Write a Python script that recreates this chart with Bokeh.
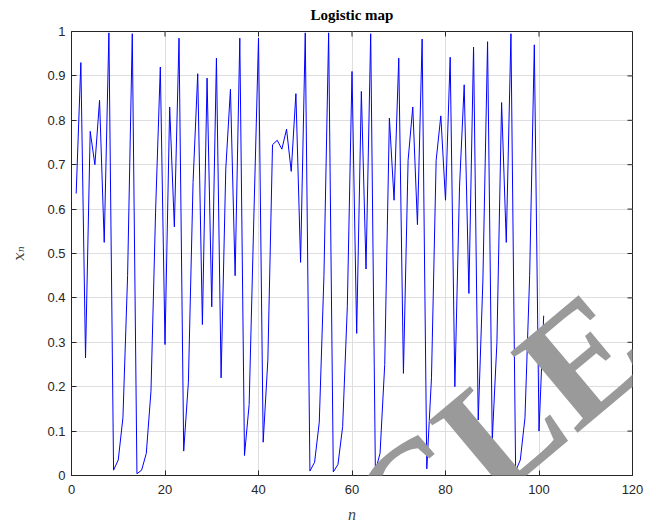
from bokeh.plotting import figure
from bokeh.models import Range1d, FixedTicker, Label
from bokeh.embed import file_html
from bokeh.resources import INLINE

# data
n_vals = list(range(1, 102))
x_vals = [0.635, 0.93, 0.265, 0.775, 0.70, 0.845, 0.525, 0.997, 0.012, 0.035,
          0.13, 0.45, 0.995, 0.004, 0.012, 0.05, 0.19, 0.60, 0.92, 0.295,
          0.83, 0.56, 0.985, 0.055, 0.21, 0.66, 0.905, 0.34, 0.895, 0.38,
          0.94, 0.22, 0.69, 0.87, 0.45, 0.985, 0.045, 0.16, 0.58, 0.985,
          0.075, 0.26, 0.745, 0.755, 0.735, 0.78, 0.685, 0.86, 0.48, 0.997,
          0.01, 0.03, 0.12, 0.45, 0.997, 0.008, 0.025, 0.11, 0.38, 0.91,
          0.32, 0.865, 0.465, 0.995, 0.01, 0.05, 0.25, 0.805, 0.62, 0.94,
          0.23, 0.71, 0.83, 0.565, 0.983, 0.015, 0.22, 0.71, 0.81, 0.62,
          0.942, 0.20, 0.65, 0.88, 0.41, 0.965, 0.125, 0.44, 0.977, 0.08,
          0.30, 0.84, 0.525, 0.995, 0.01, 0.035, 0.13, 0.45, 0.97, 0.10,
          0.36]

x_ticks = [0, 20, 40, 60, 80, 100, 120]
y_ticks = [0, 0.1, 0.2, 0.3, 0.4, 0.5, 0.6, 0.7, 0.8, 0.9, 1]
y_tick_labels = ["0", "0.1", "0.2", "0.3", "0.4", "0.5", "0.6", "0.7", "0.8", "0.9", "1"]

X0, X1, Y0, Y1 = 0, 120, 0, 1
FW, FH = 561, 444  # frame size in px

p = figure(width=656, height=524, output_backend="svg", toolbar_location=None,
           x_range=Range1d(X0, X1), y_range=Range1d(Y0, Y1),
           frame_width=FW, frame_height=FH,
           min_border_left=71, min_border_right=24, min_border_top=31, min_border_bottom=49)
p.background_fill_color = "white"
p.border_fill_color = "white"
p.outline_line_color = "#262626"
p.outline_line_width = 1

p.title.text = "Logistic map"
p.title.align = "center"
p.title.vertical_align = "top"
p.title.text_font = "Liberation Serif"
p.title.text_font_style = "bold"
p.title.text_font_size = "15px"
p.title.text_color = "black"
p.title.standoff = 13

TICK_FONT = "Liberation Sans"
for ax in (p.xaxis[0], p.yaxis[0]):
    ax.axis_line_color = "#262626"
    ax.major_tick_in = 5
    ax.major_tick_out = 0
    ax.minor_tick_line_color = None
    ax.major_tick_line_color = "#262626"
    ax.major_label_text_font = TICK_FONT
    ax.major_label_text_font_size = "13px"
    ax.major_label_text_color = "#262626"

p.xaxis[0].ticker = FixedTicker(ticks=x_ticks)
p.yaxis[0].ticker = FixedTicker(ticks=y_ticks)
p.yaxis[0].major_label_overrides = {t: s for t, s in zip(y_ticks, y_tick_labels)}
p.xaxis[0].major_label_standoff = 9
p.yaxis[0].major_label_standoff = 6

p.xaxis[0].axis_label = "n"
p.xaxis[0].axis_label_text_font = "Liberation Serif"
p.xaxis[0].axis_label_text_font_style = "italic"
p.xaxis[0].axis_label_text_font_size = "16px"
p.xaxis[0].axis_label_standoff = 9
p.yaxis[0].axis_label = "x\u2099"
p.yaxis[0].axis_label_text_font = "DejaVu Serif"
p.yaxis[0].axis_label_text_font_style = "italic"
p.yaxis[0].axis_label_text_font_size = "15px"
p.yaxis[0].axis_label_standoff = 16

p.xgrid.ticker = FixedTicker(ticks=x_ticks)
p.ygrid.ticker = FixedTicker(ticks=y_ticks)
for g in (p.xgrid[0], p.ygrid[0]):
    g.grid_line_color = "#dedede"
    g.grid_line_width = 1

# inner tick marks on the top and right edges of the box
tick_len_x = 5 * (Y1 - Y0) / FH
tick_len_y = 5 * (X1 - X0) / FW
p.segment(x0=x_ticks, y0=[Y1] * len(x_ticks), x1=x_ticks, y1=[Y1 - tick_len_x] * len(x_ticks),
          line_color="#262626", line_width=1)
p.segment(x0=[X1] * len(y_ticks), y0=y_ticks, x1=[X1 - tick_len_y] * len(y_ticks), y1=y_ticks,
          line_color="#262626", line_width=1)

p.line(n_vals, x_vals, line_color="#0000ff", line_width=1)

wm = Label(x=551, y=151, x_units="screen", y_units="screen",
           text="ARTICLE", angle=40, angle_units="deg",
           text_align="right", text_baseline="alphabetic",
           text_font="Liberation Serif", text_font_style="bold",
           text_font_size="160px", text_color="#9a9a9a")
p.add_layout(wm)

open("out.html", "w").write(file_html(p, INLINE))
